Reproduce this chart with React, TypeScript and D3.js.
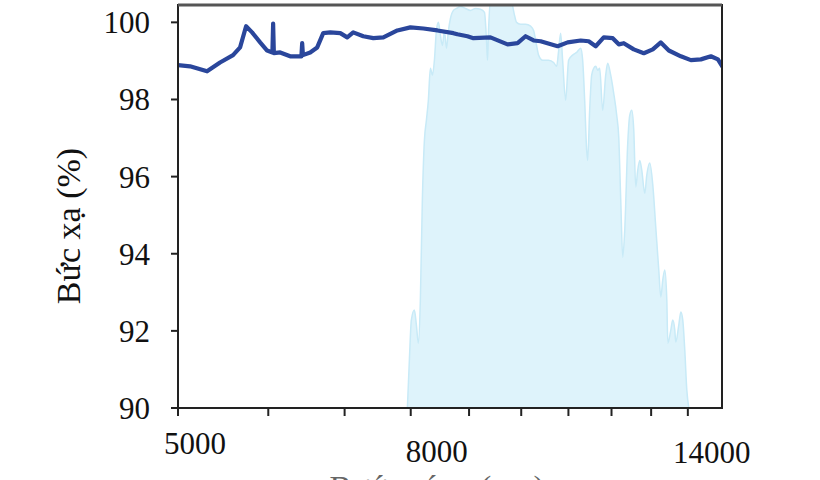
import React from 'react';
import * as d3 from 'd3';

// Blue reflectance curve
const lineWavelength = [5000, 5123, 5302, 5443, 5588, 5668, 5737, 5807, 5902, 5986, 6050, 6059, 6068, 6146, 6271, 6400, 6415, 6425, 6435, 6530, 6623, 6704, 6800, 6939, 7037, 7123, 7269, 7418, 7570, 7787, 7994, 8207, 8443, 8720, 8791, 8970, 9080, 9398, 9727, 9926, 10088, 10253, 10399, 10763, 10983, 11276, 11460, 11623, 11813, 12030, 12177, 12301, 12552, 12809, 13044, 13257, 13473, 13804, 14086, 14374, 14668, 14877, 15028];
const lineReflect = [98.89, 98.86, 98.73, 98.96, 99.15, 99.35, 99.9, 99.74, 99.48, 99.27, 99.22, 99.97, 99.2, 99.22, 99.12, 99.12, 99.12, 99.46, 99.15, 99.22, 99.35, 99.72, 99.74, 99.72, 99.61, 99.74, 99.64, 99.59, 99.61, 99.79, 99.87, 99.84, 99.79, 99.72, 99.69, 99.64, 99.59, 99.61, 99.43, 99.46, 99.64, 99.53, 99.51, 99.38, 99.48, 99.53, 99.51, 99.38, 99.61, 99.59, 99.43, 99.46, 99.3, 99.2, 99.3, 99.48, 99.27, 99.12, 99.02, 99.04, 99.12, 99.04, 98.83];

// Light-blue atmospheric band
const bandWavelength = [7946, 7978, 8010, 8059, 8092, 8124, 8157, 8190, 8224, 8257, 8290, 8324, 8358, 8392, 8426, 8460, 8494, 8529, 8563, 8598, 8633, 8668, 8721, 8774, 8845, 8935, 9026, 9118, 9210, 9285, 9323, 9342, 9361, 9398, 9591, 9787, 9866, 9906, 9987, 10088, 10191, 10253, 10315, 10357, 10441, 10569, 10676, 10741, 10785, 10828, 10872, 10938, 11005, 11094, 11184, 11276, 11321, 11367, 11413, 11436, 11482, 11529, 11576, 11623, 11670, 11717, 11788, 11860, 11908, 11981, 12054, 12127, 12177, 12226, 12275, 12325, 12400, 12450, 12501, 12552, 12602, 12653, 12705, 12756, 12834, 12886, 12964, 13044, 13122, 13202, 13257, 13309, 13363, 13418, 13445, 13527, 13580, 13636, 13663, 13746, 13804, 13858, 13914, 13971, 14027];
const bandValue = [90, 91.24, 92.28, 92.54, 92.15, 91.68, 92.8, 95.39, 96.94, 97.46, 97.98, 98.81, 98.63, 99.02, 99.79, 100.0, 99.66, 99.4, 99.79, 99.33, 99.79, 100.1, 100.31, 100.36, 100.41, 100.36, 100.31, 100.36, 100.34, 100.26, 99.53, 99.02, 99.79, 100.6, 100.6, 100.6, 100.18, 100.0, 99.95, 99.95, 99.9, 99.79, 99.4, 99.15, 99.02, 99.02, 98.96, 98.86, 99.27, 99.72, 99.02, 97.98, 99.02, 99.15, 99.22, 99.33, 99.02, 97.98, 96.68, 96.42, 97.72, 98.63, 98.81, 98.86, 98.76, 98.81, 97.72, 98.63, 98.94, 98.63, 98.16, 97.59, 97.02, 95.39, 93.91, 94.61, 96.87, 97.59, 97.72, 97.2, 95.73, 96.17, 96.42, 96.17, 95.57, 96.04, 96.35, 95.78, 94.69, 93.58, 92.88, 93.32, 93.58, 92.8, 91.68, 92.02, 92.28, 92.02, 91.71, 92.15, 92.49, 92.28, 91.5, 90.47, 90];

const yTicks = [90, 92, 94, 96, 98, 100];
const xTicks = [5000, 6000, 7000, 8000, 9000, 10000, 11000, 12000, 13000, 14000];
const xLabelValues = [5000, 8000, 14000];
const xLabels = ['5000', '8000', '14000'];
const yTitle = 'Bức xạ (%)';
const xTitle = 'Bước sóng (nm)';

const W = 820, H = 480;
const L = 178, R = 722, T = 5, B = 408;
const FONT = '"Liberation Serif", "Times New Roman", serif';
// label placement nudges (style, not data)
const xLabelNudge: Record<number, [number, number]> = { 5000: [17, 454], 8000: [26, 462], 14000: [24, 463] };

export default function App() {
  const x = d3.scaleLog().domain([5000, 15000]).range([L, R]);
  const y = d3.scaleLinear().domain([90, 100.45]).range([B, T]);

  const bandPts: [number, number][] = bandWavelength.map((w, i) => [w, bandValue[i]]);
  const linePts: [number, number][] = lineWavelength.map((w, i) => [w, lineReflect[i]]);

  const area = d3.area<[number, number]>()
    .x(d => x(d[0]))
    .y0(y(90))
    .y1(d => y(d[1]))
    .curve(d3.curveMonotoneX);
  const bandTop = d3.line<[number, number]>()
    .x(d => x(d[0]))
    .y(d => y(d[1]))
    .curve(d3.curveMonotoneX);
  const line = d3.line<[number, number]>()
    .x(d => x(d[0]))
    .y(d => y(d[1]));

  return (
    <svg width={W} height={H} style={{ position: 'absolute', left: 0, top: 0, background: '#fff' }}>
      <defs>
        <clipPath id="plotClip">
          <rect x={L} y={T} width={R - L} height={B - T} />
        </clipPath>
      </defs>
      <g clipPath="url(#plotClip)">
        <path d={area(bandPts) || ''} fill="#def3fb" stroke="none" />
        <path d={bandTop(bandPts) || ''} fill="none" stroke="#c8eaf7" strokeWidth={1.5} />
        <path d={line(linePts) || ''} fill="none" stroke="#2a469b" strokeWidth={4.2} strokeLinejoin="round" strokeLinecap="round" />
      </g>
      {/* frame */}
      <rect x={L} y={T} width={R - L} height={B - T} fill="none" stroke="#222" strokeWidth={2} />
      <line x1={L} x2={R} y1={T} y2={T} stroke="#555" strokeWidth={3} />
      {/* y ticks */}
      {yTicks.map(t => (
        <g key={t}>
          <line x1={L - 7} x2={L} y1={y(t)} y2={y(t)} stroke="#222" strokeWidth={2} />
          <text x={150} y={y(t) + 11} textAnchor="end" fontFamily={FONT} fontSize={31} fill="#111">{t}</text>
        </g>
      ))}
      {/* x ticks */}
      {xTicks.map(t => (
        <line key={t} x1={x(t)} x2={x(t)} y1={B} y2={B + 8} stroke="#222" strokeWidth={2} />
      ))}
      {xLabelValues.map((v, i) => (
        <text key={v} x={x(v) + xLabelNudge[v][0]} y={xLabelNudge[v][1]} textAnchor="middle" fontFamily={FONT} fontSize={31} fill="#111">{xLabels[i]}</text>
      ))}
      <text transform={`translate(80,226) rotate(-90)`} textAnchor="middle" fontFamily={FONT} fontSize={34} fill="#111">{yTitle}</text>
      <text x={437} y={499} textAnchor="middle" fontFamily={FONT} fontSize={33} fill="#666">{xTitle}</text>
    </svg>
  );
}
